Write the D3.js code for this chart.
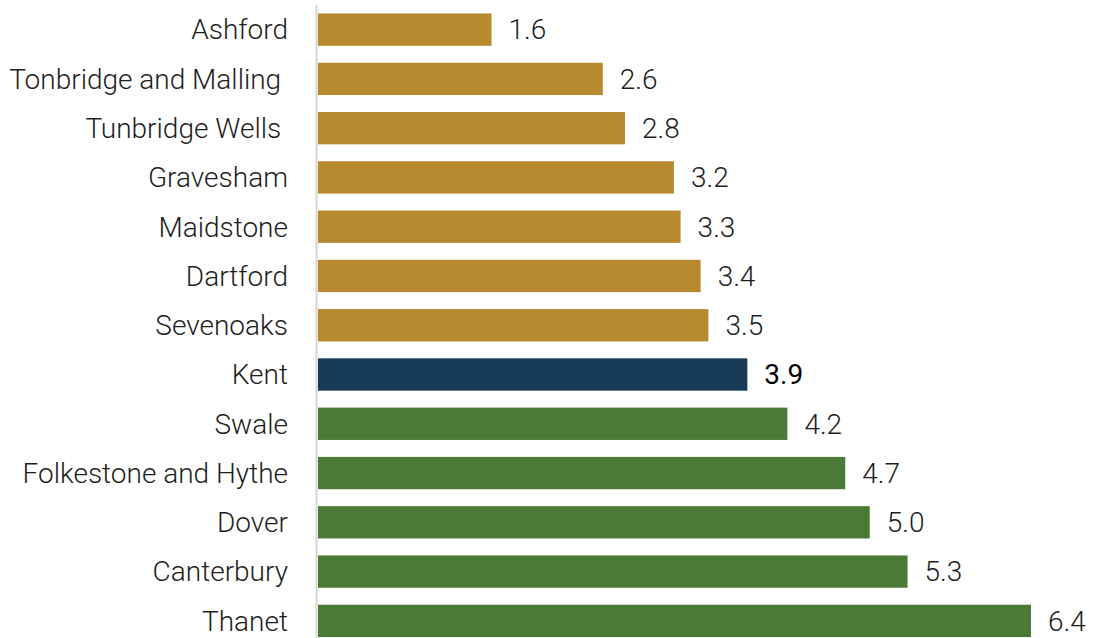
<!DOCTYPE html>
<html>
<head>
<meta charset="utf-8">
<script src="https://cdn.jsdelivr.net/npm/d3@7"></script>
<style>
  body { margin: 0; background: #fff; }
  svg { display: block; }
  .label { font-family: Roboto, "Liberation Sans", Arial, sans-serif; font-weight: 300; font-size: 28px; fill: #1e1e1e; white-space: pre; }
</style>
</head>
<body>
<div id="chart"></div>
<script>
// names as in the source sheet (two carry a trailing space)
var districts = ["Ashford", "Tonbridge and Malling ", "Tunbridge Wells ", "Gravesham", "Maidstone",
  "Dartford", "Sevenoaks", "Kent", "Swale", "Folkestone and Hythe", "Dover", "Canterbury", "Thanet"];
var rates = [1.56, 2.56, 2.76, 3.20, 3.26, 3.44, 3.51, 3.86, 4.22, 4.74, 4.96, 5.30, 6.41];
var groups = ["below", "below", "below", "below", "below", "below", "below", "kent",
  "above", "above", "above", "above", "above"];

var W = 1094, H = 638;
var X0 = 318;

var svg = d3.select("#chart").append("svg")
  .attr("width", W)
  .attr("height", H);

var scaleY = d3.scaleBand()
  .domain(districts)
  .range([5, 645.5])
  .paddingInner(0.344)
  .paddingOuter(0.172);

var scaleX = d3.scaleLinear()
  .domain([0, 6.41])
  .range([X0, 1031]);

var scaleColor = d3.scaleOrdinal()
  .domain(["below", "kent", "above"])
  .range(["#b88a30", "#173a56", "#4a7a35"]);

var data = districts.map(function(d, i) {
  return { name: d, value: rates[i], group: groups[i] };
});

// bars
svg.append("g").attr("class", "bars")
  .selectAll("rect").data(data).enter().append("rect")
  .attr("x", scaleX(0))
  .attr("y", function(d) { return scaleY(d.name); })
  .attr("width", function(d) { return scaleX(d.value) - scaleX(0); })
  .attr("height", scaleY.bandwidth())
  .style("fill", function(d) { return scaleColor(d.group); });

// left axis line
svg.append("line")
  .attr("x1", 316.5).attr("x2", 316.5)
  .attr("y1", scaleY.range()[0]).attr("y2", scaleY.range()[1])
  .style("stroke", "#d4d4d4")
  .style("stroke-width", 2);

// category labels
svg.append("g").attr("class", "names")
  .selectAll("text").data(data).enter().append("text")
  .attr("class", "label")
  .attr("x", 288)
  .attr("y", function(d) { return scaleY(d.name) + scaleY.bandwidth() / 2; })
  .attr("dy", "0.35em")
  .attr("text-anchor", "end")
  .text(function(d) { return d.name; });

// value labels
var fmt = d3.format(".1f");
svg.append("g").attr("class", "values")
  .selectAll("text").data(data).enter().append("text")
  .attr("class", "label")
  .attr("x", function(d) { return scaleX(d.value) + 17; })
  .attr("y", function(d) { return scaleY(d.name) + scaleY.bandwidth() / 2; })
  .attr("dy", "0.35em")
  .style("fill", function(d) { return d.group == "kent" ? "#000" : null; })
  .style("font-weight", function(d) { return d.group == "kent" ? 400 : null; })
  .text(function(d) { return fmt(d.value); });
</script>
</body>
</html>
